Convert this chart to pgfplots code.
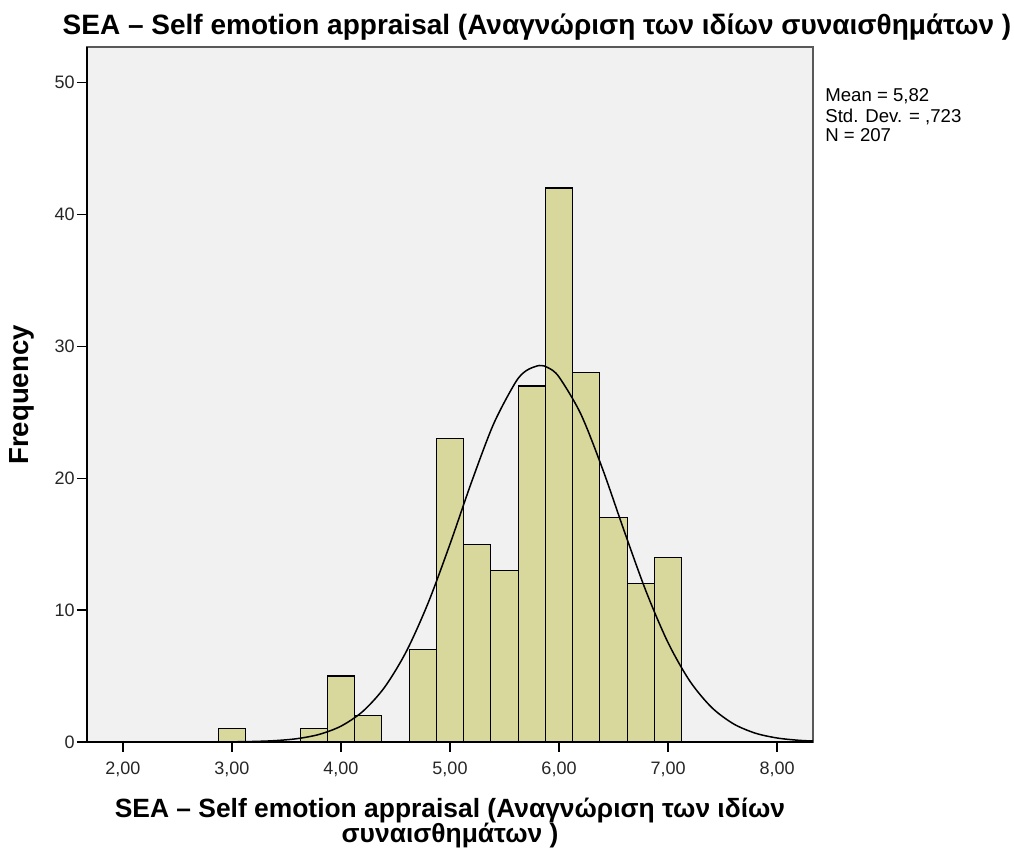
\documentclass[border=0pt]{standalone}
\usepackage{fontspec}
\setmainfont{Liberation Sans}
\usepackage{pgfplots}
\pgfplotsset{compat=1.18}
\definecolor{barfill}{RGB}{216,215,156}
\definecolor{plotbg}{RGB}{241,241,241}
\begin{document}
\begin{tikzpicture}[x=1pt,y=1pt]
\useasboundingbox (0,0) rectangle (507,425);
\begin{axis}[
  at={(43.5pt,54pt)}, anchor=south west,
  scale only axis, width=363pt, height=347.5pt,
  xmin=1.67, xmax=8.33, ymin=0, ymax=52.7,
  axis x line*=bottom, axis y line*=left,
  x axis line style={-}, y axis line style={-},
  axis line style={black, line width=0.9pt},
  axis background/.style={fill=plotbg, draw=black!65, line width=0.6pt},
  xtick={2,3,4,5,6,7,8},
  xticklabels={{2,00},{3,00},{4,00},{5,00},{6,00},{7,00},{8,00}},
  ytick={0,10,20,30,40,50},
  tick align=outside, major tick length=5pt,
  tick style={black, line width=0.7pt},
  ticklabel style={font=\fontsize{9}{10}\selectfont, text=black!85},
  /pgf/number format/assume math mode=true,
  xticklabel style={inner sep=1.5pt, yshift=-3.5pt},
  yticklabel style={inner sep=1pt},
  clip=false,
]
\addplot[ybar, bar width=0.25, bar shift=0pt, fill=barfill, draw=black, line width=0.6pt]
  coordinates {(3.00,1) (3.75,1) (4.00,5) (4.25,2) (4.75,7) (5.00,23) (5.25,15)
               (5.50,13) (5.75,27) (6.00,42) (6.25,28) (6.50,17) (6.75,12) (7.00,14)};
\addplot[black, line width=0.75pt, smooth, no markers]
  coordinates {(1.70,0) (2.40,0.0004) (2.60,0.0014) (3.00,0.0142) (3.20,0.040) (3.40,0.105)
    (3.60,0.256) (3.80,0.576) (4.00,1.202) (4.20,2.320) (4.40,4.150) (4.60,6.875)
    (4.80,10.554) (5.00,15.006) (5.20,19.766) (5.40,24.117) (5.60,27.258) (5.70,28.16)
    (5.82,28.55) (5.90,28.38) (6.00,27.679) (6.20,24.867) (6.40,20.695) (6.60,15.953)
    (6.80,11.393) (7.00,7.537) (7.20,4.619) (7.40,2.622) (7.60,1.379) (7.80,0.671)
    (8.00,0.303) (8.20,0.127) (8.33,0.075)};
\end{axis}
\node[anchor=base, inner sep=0pt, font=\bfseries\fontsize{14}{16}\selectfont] at (268.5,407.5)
  {SEA – Self emotion appraisal (Αναγνώριση των ιδίων συναισθημάτων )};
\node[anchor=base, inner sep=0pt, font=\bfseries\fontsize{13.2}{15}\selectfont] at (225,16)
  {SEA – Self emotion appraisal (Αναγνώριση των ιδίων};
\node[anchor=base, inner sep=0pt, font=\bfseries\fontsize{13.2}{15}\selectfont] at (225,3.5)
  {συναισθημάτων )};
\node[rotate=90, font=\bfseries\fontsize{13.8}{15}\selectfont] at (11,227.5) {Frequency};
\node[anchor=base west, align=left, font=\fontsize{9.3}{10}\selectfont, inner sep=0pt]
  at (412.5,374) {Mean = 5,82};
\node[anchor=base west, align=left, font=\fontsize{9.3}{10}\selectfont, inner sep=0pt]
  at (412.5,363.5) {Std. Dev. = ,723};
\node[anchor=base west, align=left, font=\fontsize{9.3}{10}\selectfont, inner sep=0pt]
  at (412.5,354) {N = 207};
\end{tikzpicture}
\end{document}
